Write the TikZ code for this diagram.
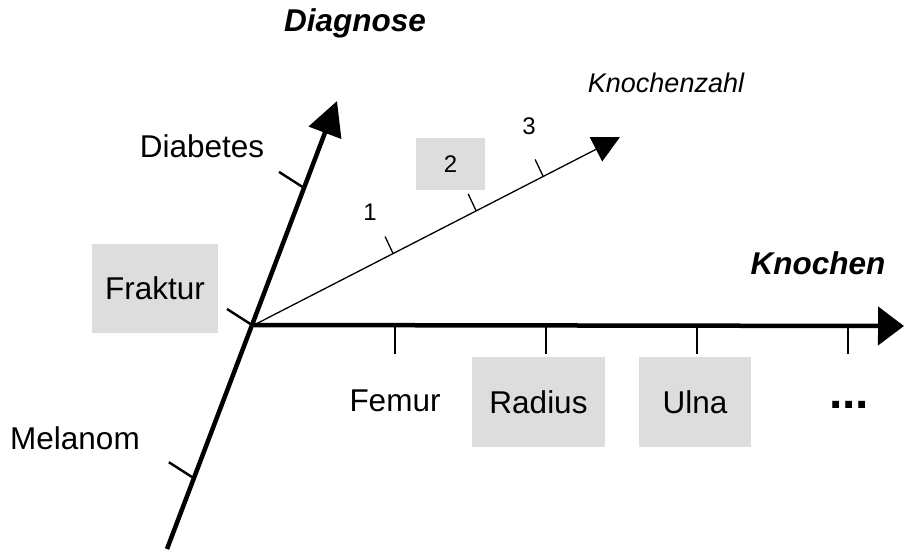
\documentclass[tikz,border=0pt]{standalone}
\usepackage{fontspec}
\setmainfont{Liberation Sans}
\usetikzlibrary{calc,arrows.meta}
\definecolor{kastengrau}{HTML}{DDDDDD}
\newcommand{\gross}{\fontsize{31.5}{38}\selectfont}
\newcommand{\mittel}{\fontsize{27}{32}\selectfont}
\newcommand{\klein}{\fontsize{24}{29}\selectfont}

\begin{document}
\begin{tikzpicture}[x=1pt,y=-1pt,
    kasten/.style={fill=kastengrau,inner sep=0pt},
    achse/.style={line width=4.5pt},
    strich/.style={line width=2.4pt},
    duenn/.style={line width=1.3pt}]
  \useasboundingbox (0,0) rectangle (904,556);
  %% Punkte der Achsen
  \coordinate (O) at (254,325);
  \coordinate (diagunten) at (167,549);
  \coordinate (diagoben) at (337,101);
  \coordinate (knochenende) at (904,326);
  \coordinate (zahlende) at (620,137);

  %% Beschriftung und Kaesten
  \node (diagnose) at (355,23) {\gross\bfseries\itshape Diagnose};
  \node (knochen) at (818,263) {\gross\bfseries\itshape Knochen};
  \node (knochenzahl) at (666,83) {\mittel\itshape Knochenzahl};
  \node (diabetes) at (202,146) {\gross Diabetes};
  \node (fraktur) at (155,288.5) [kasten,minimum width=126pt,minimum height=89pt] {\gross Fraktur};
  \node (melanom) at (75,438) {\gross Melanom};
  \node (eins) at (370,212) {\klein 1};
  \node (zwei) at (450.5,164) [kasten,minimum width=69pt,minimum height=52pt] {\klein 2};
  \node (drei) at (529,126) {\klein 3};
  \node (femur) at (395,401) {\gross Femur};
  \node (radius) at (538.5,402) [kasten,minimum width=133pt,minimum height=90pt] {\gross Radius};
  \node (ulna) at (695,402) [kasten,minimum width=112pt,minimum height=90pt] {\gross Ulna};
  \node (weiter) at (849,405) {\fontsize{48}{56}\selectfont\bfseries ...};

  %% Achsen
  \draw[achse,-{Triangle[length=34pt,width=34pt]}] (diagunten) -- (diagoben);
  \draw[achse,-{Triangle[length=26pt,width=38pt]}] (O) -- (knochenende);
  \draw[duenn,-{Triangle[length=27pt,width=27pt]}] (O) -- (zahlende);

  %% Striche
  \foreach \t in {0.158,0.5,0.806}
    \draw[strich] ($(diagunten)!\t!(diagoben)$) -- ++(-25,-16);
  \foreach \t in {0.38,0.607,0.79}
    \draw[duenn] ($(O)!\t!(zahlende)$) -- ++(-8,-17);
  \foreach \x in {395,546,697,848}
    \draw[strich] (\x,326) -- ++(0,28);
\end{tikzpicture}
\end{document}
